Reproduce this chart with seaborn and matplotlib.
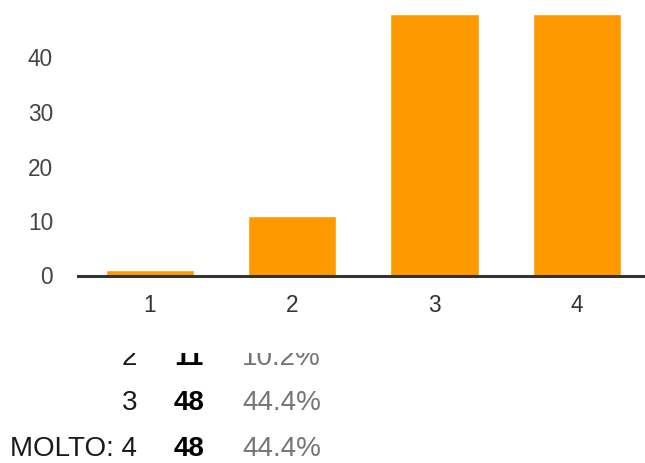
import matplotlib
matplotlib.use("Agg")
import matplotlib.pyplot as plt
import seaborn as sns
import pandas as pd

categories = ["1", "2", "3", "4"]
counts = [1, 11, 48, 48]
row_labels = ["1", "2", "3", "MOLTO: 4"]
y_ticks = [0, 10, 20, 30, 40]

sns.set_theme(style="white")
plt.rcParams['font.family'] = ['Liberation Sans', 'DejaVu Sans']

W, H = 645, 463
fig = plt.figure(figsize=(W / 100, H / 100), dpi=100)

# main bar axes (pixel-based layout)
ax_left, ax_right = 78, 645
ax_bottom, ax_top = 275.5, 3
ax = fig.add_axes([ax_left / W, (H - ax_bottom) / H,
                   (ax_right - ax_left) / W, (ax_bottom - ax_top) / H])

df = pd.DataFrame({"cat": categories, "n": counts})
sns.barplot(data=df, x="cat", y="n", color="#FF9900", saturation=1,
            width=0.62, ax=ax, zorder=2)
ax.set_xlim(-0.505, 3.48)
ax.set_ylim(0, 50)
ax.set_yticks(y_ticks)
ax.set_xlabel("")
ax.set_ylabel("")
for s in ["top", "right", "left"]:
    ax.spines[s].set_visible(False)
ax.spines["bottom"].set_color("#333333")
ax.spines["bottom"].set_linewidth(2.2)
ax.spines["bottom"].set_zorder(3)
ax.tick_params(axis="y", length=0, pad=18, labelsize=16.3, labelcolor="#444444")
ax.tick_params(axis="x", length=0, pad=13, labelsize=16.3, labelcolor="#333333")
ax.grid(False)

# table below (clipped at its top like the reference)
clip_top = 353
tax = fig.add_axes([0, 0, 1, (H - clip_top) / H])
tax.set_xlim(0, W)
tax.set_ylim(H, clip_top)
tax.axis("off")
total = sum(counts)
base0, step = 319.5, 45.5
for i, (lab, n) in enumerate(zip(row_labels, counts)):
    yb = base0 + step * i
    if yb <= clip_top:
        continue  # row scrolled fully out of view
    tax.text(137, yb, lab, ha="right", va="baseline", fontsize=20,
             color="#1a1a1a", clip_on=True)
    tax.text(204, yb, str(n), ha="right", va="baseline", fontsize=20,
             fontweight="bold", color="#000000", clip_on=True)
    tax.text(321, yb, f"{n / total * 100:.1f}%", ha="right", va="baseline",
             fontsize=20, color="#757575", clip_on=True)

fig.savefig("out.png", dpi=100)
